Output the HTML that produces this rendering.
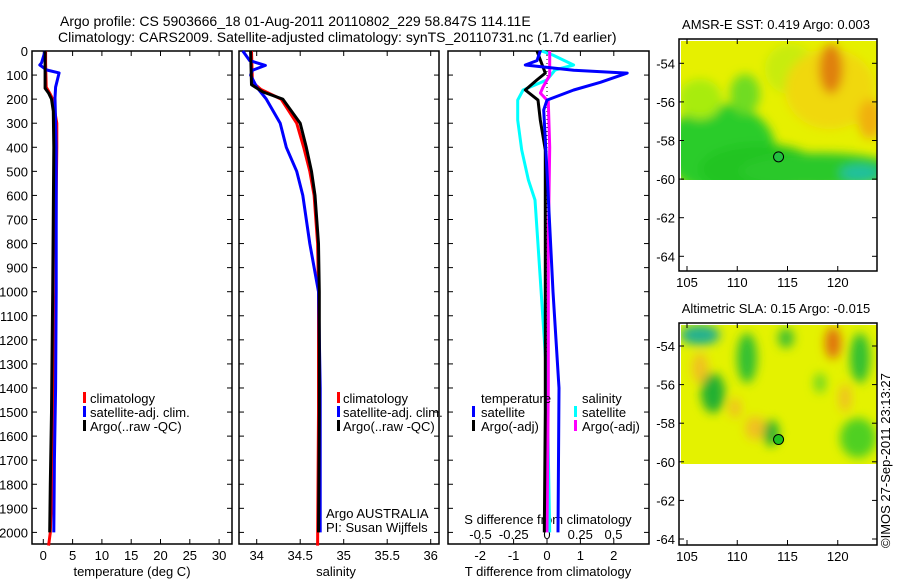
<!DOCTYPE html>
<html><head><meta charset="utf-8"><style>
html,body{margin:0;padding:0;background:#fff;}
svg{display:block;font-family:"Liberation Sans",sans-serif;}
</style></head><body>
<svg id="fig" width="900" height="580" viewBox="0 0 900 580" xmlns="http://www.w3.org/2000/svg">
<defs>
<filter id="blur1" x="-50%" y="-50%" width="200%" height="200%"><feGaussianBlur stdDeviation="5"/></filter>
<clipPath id="clipM1"><rect x="681" y="41" width="196" height="139"/></clipPath>
<clipPath id="clipM2"><rect x="681" y="325" width="196" height="139"/></clipPath>
</defs>
<text x="60" y="26" font-size="14">Argo profile: CS 5903666_18 01-Aug-2011 20110802_229 58.847S 114.11E</text>
<text x="58" y="42" font-size="14">Climatology: CARS2009. Satellite-adjusted climatology: synTS_20110731.nc (1.7d earlier)</text>
<g id="p1"></g>
<g id="p2"></g>
<g id="p3"></g>
<g id="m1"></g>
<g id="m2"></g>
<text transform="translate(890,548) rotate(-90)" font-size="13">©IMOS 27-Sep-2011 23:13:27</text>
</svg>
<script>
// ---- data ----
const depthTicks = [0,100,200,300,400,500,600,700,800,900,1000,1100,1200,1300,1400,1500,1600,1700,1800,1900,2000];
const tTicks = [0,5,10,15,20,25,30];
const sTicks = [34,34.5,35,35.5,36];
const sTickLabels = ["34","34.5","35","35.5","36"];
const dTTicks = [-2,-1,0,1,2];
const dSTicks = [-0.5,-0.25,0,0.25,0.5];
const dSTickLabels = ["-0.5","-0.25","0","0.25","0.5"];

const tClimDepth = [0,50,150,180,200,300,400,600,1000,1400,1800,2000,2055];
const tClimVal   = [0.4,0.4,0.5,1.2,1.6,2.3,2.3,2.2,2.1,1.8,1.5,1.2,0.9];
const tSatDepth  = [0,50,58,79,91,150,195,400,1000,1400,1700,2000];
const tSatVal    = [0.3,-0.3,-0.6,0.6,2.7,2.1,2.0,2.2,2.2,2.1,1.9,1.8];
const tArgoDepth = [0,100,155,175,200,250,400,1000,1500,1800,2000];
const tArgoVal   = [0.3,0.3,0.3,0.9,1.4,1.7,1.8,1.6,1.4,1.2,1.1];

const sClimDepth = [0,130,160,200,300,400,500,600,800,1000,1500,2055];
const sClimVal   = [33.94,33.95,34.05,34.28,34.46,34.54,34.61,34.66,34.70,34.71,34.71,34.70];
const sSatDepth  = [0,40,60,80,100,150,200,300,400,500,600,800,1000,1400,2000];
const sSatVal    = [33.84,33.92,34.10,33.95,33.93,34.00,34.11,34.27,34.34,34.46,34.53,34.61,34.71,34.73,34.73];
const sArgoDepth = [0,140,170,200,300,400,500,600,800,1000,1500,2000];
const sArgoVal   = [33.93,33.94,34.07,34.30,34.50,34.57,34.63,34.67,34.71,34.72,34.72,34.71];

const dTSatDepth = [0,40,58,80,92,130,162,204,245,500,1000,1400,2000];
const dTSatVal   = [-0.2,-0.3,-0.65,0.8,2.4,1.6,0.8,0.0,-0.1,0.0,0.18,0.36,0.33];
const dTArgoDepth= [0,37,92,120,162,204,287,411,1000,1500,2000];
const dTArgoVal  = [-0.3,-0.2,-0.05,-0.3,-0.65,-0.27,-0.2,-0.05,-0.05,-0.05,-0.08];
const dSSatDepth = [0,17,58,79,120,162,204,287,411,536,619,785,1367,2000];
const dSSatVal   = [-0.04,0.045,0.2,0.06,0,-0.18,-0.22,-0.22,-0.19,-0.14,-0.09,-0.07,0,0.02];
const dSArgoDepth= [0,100,150,175,210,400,800,1400,2000];
const dSArgoVal  = [0.02,0.02,-0.03,-0.05,0.01,0.02,0.01,0.01,0.0];

// ---- helpers ----
const NS="http://www.w3.org/2000/svg";
function mk(parent,tag,attrs){const e=document.createElementNS(NS,tag);for(const k in attrs)e.setAttribute(k,attrs[k]);parent.appendChild(e);return e;}
const Y0=51, YPM=0.2407;
function yD(d){return Y0+d*YPM;}
const PT=51, PB=544;
function frame(g,x0,x1,name){
  const r=mk(g,'rect',{x:x0,y:PT,width:x1-x0,height:PB-PT,fill:'none',stroke:'#000','stroke-width':1.5});
  
  
  depthTicks.forEach(d=>{
    mk(g,'line',{x1:x0,x2:x0+5,y1:yD(d),y2:yD(d),stroke:'#000'});
    mk(g,'line',{x1:x1,x2:x1-5,y1:yD(d),y2:yD(d),stroke:'#000'});
  });
}
function xticks(g,vals,labels,xf,yLab,top,name){
  vals.forEach((v,i)=>{
    const x=xf(v);
    mk(g,'line',{x1:x,x2:x,y1:PB,y2:PB-5,stroke:'#000'});
    if(top) mk(g,'line',{x1:x,x2:x,y1:PT,y2:PT+5,stroke:'#000'});
    const t=mk(g,'text',{x:x,y:yLab,'font-size':13,'text-anchor':'middle'});
    t.textContent=labels[i];
    
    
  });
}
function line(g,depths,vals,xf,color,name,w){
  const pts=depths.map((d,i)=>xf(vals[i]).toFixed(1)+','+yD(d).toFixed(1)).join(' ');
  const p=mk(g,'polyline',{points:pts,fill:'none',stroke:color,'stroke-width':w||3,'stroke-linejoin':'round'});
  
  
}
function txt(g,x,y,s,name,size,anchor){
  const t=mk(g,'text',{x:x,y:y,'font-size':size||13,'text-anchor':anchor||'start'});
  t.textContent=s;
  
  
  return t;
}
function legBar(g,x,y,color,name){
  const r=mk(g,'rect',{x:x,y:y-10,width:3,height:11,fill:color});
  
  
}

// ---- panel 1: temperature ----
const p1=document.getElementById('p1');
const xT=v=>43.3+v*5.86;
frame(p1,32,232,'temperature-frame');
depthTicks.forEach(d=>{const t=txt(p1,28,yD(d)+5,String(d),'depth-tick-label',13,'end');});
xticks(p1,tTicks,tTicks.map(String),xT,560,true,'temperature-tick-label');
txt(p1,132,576,'temperature (deg C)','temperature-axis-title',13,'middle');
line(p1,tClimDepth,tClimVal,xT,'#ff0000','temperature-climatology-line');
line(p1,tSatDepth,tSatVal,xT,'#0000ff','temperature-satellite-line');
line(p1,tArgoDepth,tArgoVal,xT,'#000000','temperature-argo-line');
legBar(p1,83,402,'#ff0000','legend-climatology-swatch');txt(p1,90,403,'climatology','legend-climatology');
legBar(p1,83,416,'#0000ff','legend-satellite-swatch');txt(p1,90,417,'satellite-adj. clim.','legend-satellite');
legBar(p1,83,430,'#000000','legend-argo-swatch');txt(p1,90,431,'Argo(..raw -QC)','legend-argo');

// ---- panel 2: salinity ----
const p2=document.getElementById('p2');
const xS=v=>256.7+(v-34)*87;
frame(p2,239,439,'salinity-frame');
xticks(p2,sTicks,sTickLabels,xS,560,true,'salinity-tick-label');
txt(p2,336,576,'salinity','salinity-axis-title',13,'middle');
line(p2,sClimDepth,sClimVal,xS,'#ff0000','salinity-climatology-line');
line(p2,sSatDepth,sSatVal,xS,'#0000ff','salinity-satellite-line');
line(p2,sArgoDepth,sArgoVal,xS,'#000000','salinity-argo-line');
legBar(p2,337,402,'#ff0000','legend-climatology-swatch');txt(p2,343,403,'climatology','legend-climatology');
legBar(p2,337,416,'#0000ff','legend-satellite-swatch');txt(p2,343,417,'satellite-adj. clim.','legend-satellite');
legBar(p2,337,430,'#000000','legend-argo-swatch');txt(p2,343,431,'Argo(..raw -QC)','legend-argo');
txt(p2,326,518,'Argo AUSTRALIA','credit-argo-australia');
txt(p2,326,532,'PI: Susan Wijffels','credit-pi');

// ---- panel 3: differences ----
const p3=document.getElementById('p3');
const xDT=v=>547+v*33.4;
const xDS=v=>547+v*133;
frame(p3,448,649,'difference-frame');
xticks(p3,dTTicks,dTTicks.map(String),xDT,560,true,'t-difference-tick-label');
dSTicks.forEach((v,i)=>{txt(p3,xDS(v),539,dSTickLabels[i],'s-difference-tick-label',13,'middle');});
txt(p3,548,524,'S difference from climatology','s-difference-axis-title',13,'middle');
txt(p3,548,576,'T difference from climatology','t-difference-axis-title',13,'middle');
mk(p3,'line',{x1:547,x2:547,y1:PT,y2:yD(1300),stroke:'#000','stroke-dasharray':'1,3'});
line(p3,dSSatDepth,dSSatVal,xDS,'#00ffff','salinity-satellite-diff-line');
line(p3,dSArgoDepth,dSArgoVal,xDS,'#ff00ff','salinity-argo-diff-line');
line(p3,dTArgoDepth,dTArgoVal,xDT,'#000000','temperature-argo-diff-line');
line(p3,dTSatDepth,dTSatVal,xDT,'#0000ff','temperature-satellite-diff-line');
txt(p3,481,403,'temperature','legend-temperature-heading');
txt(p3,582,403,'salinity','legend-salinity-heading');
legBar(p3,472,416,'#0000ff','legend-t-satellite-swatch');txt(p3,481,417,'satellite','legend-t-satellite');
legBar(p3,472,430,'#000000','legend-t-argo-swatch');txt(p3,481,431,'Argo(-adj)','legend-t-argo');
legBar(p3,574,416,'#00ffff','legend-s-satellite-swatch');txt(p3,582,417,'satellite','legend-s-satellite');
legBar(p3,574,430,'#ff00ff','legend-s-argo-swatch');txt(p3,582,431,'Argo(-adj)','legend-s-argo');

// ---- maps ----
const latTicks=[-54,-56,-58,-60,-62,-64];
const lonTicks=[105,110,115,120];
function map(g,top,lat54,clip,title,base,blobs,dotFill,name){
  const yL=l=>lat54+(-54-l)*19.3;
  const xL=l=>687+(l-105)*10.05;
  txt(g,776,top-10,title,name+'-title',13,'middle');
  const cg=mk(g,'g',{'clip-path':'url(#'+clip+')'});
  mk(cg,'rect',{x:681,y:top+2,width:196,height:139,fill:base});
  const bg=mk(cg,'g',{filter:'url(#blur1)'});
  blobs.forEach(b=>mk(bg,'ellipse',{cx:b[0],cy:top+b[1],rx:b[2],ry:b[3],fill:b[4]}));
  const r=mk(g,'rect',{x:679,y:top,width:198,height:545-top-(top<100?274:0),fill:'none',stroke:'#000','stroke-width':1.5});
  
  
  const bottom=top<100?271:545;
  latTicks.forEach(l=>{const y=yL(l);if(y>bottom)return;
    mk(g,'line',{x1:679,x2:684,y1:y,y2:y,stroke:'#000'});mk(g,'line',{x1:877,x2:872,y1:y,y2:y,stroke:'#000'});
    txt(g,675,y+5,String(l),name+'-lat-label',13,'end');});
  lonTicks.forEach(l=>{const x=xL(l);
    mk(g,'line',{x1:x,x2:x,y1:bottom,y2:bottom-5,stroke:'#000'});mk(g,'line',{x1:x,x2:x,y1:top,y2:top+5,stroke:'#000'});
    txt(g,x,bottom+16,String(l),name+'-lon-label',13,'middle');});
  const d=mk(g,'circle',{cx:xL(114.11),cy:yL(-58.847),r:5,fill:dotFill,stroke:'#000','stroke-width':1});
  
  
}
const m1=document.getElementById('m1');
m1.setAttribute('frame','');
map(m1,39,63.3,'clipM1','AMSR-E SST: 0.419 Argo: 0.003','#e6f000',[
 [720,110,55,45,'#2ccc2c'],[760,130,60,25,'#24c424'],[820,132,80,18,'#2cc82c'],[700,60,22,20,'#a8ec10'],
 [745,55,15,20,'#70dc20'],[790,30,25,25,'#c8ec10'],[830,50,45,40,'#f0d810'],[831,30,12,25,'#e08008'],[870,80,12,20,'#f0b010'],
 [860,134,20,8,'#20c0a0']
],'#22c040','amsr-sst-map');
const m2=document.getElementById('m2');
map(m2,323,346,'clipM2','Altimetric SLA: 0.15 Argo: -0.015','#e4f200',[
 [700,12,20,10,'#20b090'],[747,35,10,25,'#30c030'],[713,70,12,20,'#20b030'],[786,15,8,10,'#40c030'],
 [833,20,8,16,'#e07010'],[860,35,10,25,'#30c030'],[771,110,8,13,'#20b030'],[858,115,18,20,'#50d020'],
 [700,45,8,15,'#f0c020'],[755,105,10,12,'#f0c020'],[735,85,6,10,'#f0c020'],[845,75,6,14,'#f0c020'],[820,60,6,10,'#70d820']
],'#20c020','sla-map');
</script>
</body></html>
